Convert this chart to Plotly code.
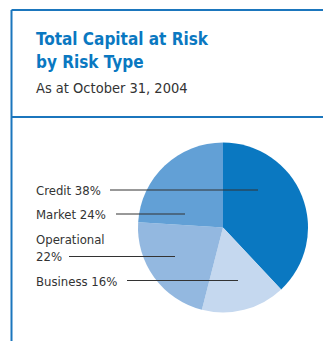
import plotly.graph_objects as go

W, H = 323, 341

categories = ["Credit", "Business", "Operational", "Market"]
values = [38, 16, 22, 24]
colors = ["#0a78c1", "#c5d8ef", "#93b8e0", "#62a0d6"]
label_texts = ["Credit 38%", "Market 24%", "Operational<br>22%", "Business 16%"]

title_lines = ["Total Capital at Risk", "by Risk Type"]
subtitle_text = "As at October 31, 2004"

FONT = "Liberation Sans Narrow, Arial Narrow, DejaVu Sans Condensed, sans-serif"


def px(x):
    return x / W


def py(y):
    return 1 - y / H


fig = go.Figure()
fig.add_trace(go.Pie(
    labels=categories,
    values=values,
    marker=dict(colors=colors, line=dict(width=0)),
    sort=False,
    direction="clockwise",
    rotation=0,
    textinfo="none",
    hoverinfo="label+percent",
    showlegend=False,
    domain=dict(x=[px(138), px(308)], y=[py(312.5), py(142.5)]),
))

shapes = []
border = "#1b76bd"
shapes.append(dict(type="line", xref="paper", yref="paper", x0=px(11.5), x1=px(11.5),
                   y0=py(10), y1=py(341), line=dict(color=border, width=2)))
shapes.append(dict(type="line", xref="paper", yref="paper", x0=px(11.5), x1=px(323),
                   y0=py(10), y1=py(10), line=dict(color=border, width=2)))
shapes.append(dict(type="line", xref="paper", yref="paper", x0=px(11.5), x1=px(323),
                   y0=py(117), y1=py(117), line=dict(color=border, width=2)))

leaders = [(190, 110, 258), (214, 116, 185), (256.5, 69, 175), (280.5, 127, 238)]
for ly, lx0, lx1 in leaders:
    shapes.append(dict(type="line", xref="paper", yref="paper", x0=px(lx0), x1=px(lx1),
                       y0=py(ly), y1=py(ly), line=dict(color="#333333", width=1)))

annotations = []
for t, yy in zip(title_lines, [39, 62]):
    annotations.append(dict(text="<b>" + t + "</b>", x=px(34), y=py(yy), xref="paper", yref="paper",
                            xanchor="left", yanchor="middle", align="left", showarrow=False,
                            font=dict(family=FONT, size=17, color="#0a78c1")))
annotations.append(dict(text=subtitle_text, x=px(34), y=py(87.5), xref="paper", yref="paper",
                        xanchor="left", yanchor="middle", align="left", showarrow=False,
                        font=dict(family=FONT, size=14.5, color="#333333")))
label_y = [190.5, 214.5, 247.5, 281]
for t, yy in zip(label_texts, label_y):
    annotations.append(dict(text=t, x=px(34), y=py(yy), xref="paper", yref="paper",
                            xanchor="left", yanchor="middle", align="left", showarrow=False,
                            font=dict(family=FONT, size=13, color="#333333")))

fig.update_layout(
    width=W, height=H,
    margin=dict(l=0, r=0, t=0, b=0),
    paper_bgcolor="white", plot_bgcolor="white",
    shapes=shapes, annotations=annotations,
)

fig.write_html("out.html")
